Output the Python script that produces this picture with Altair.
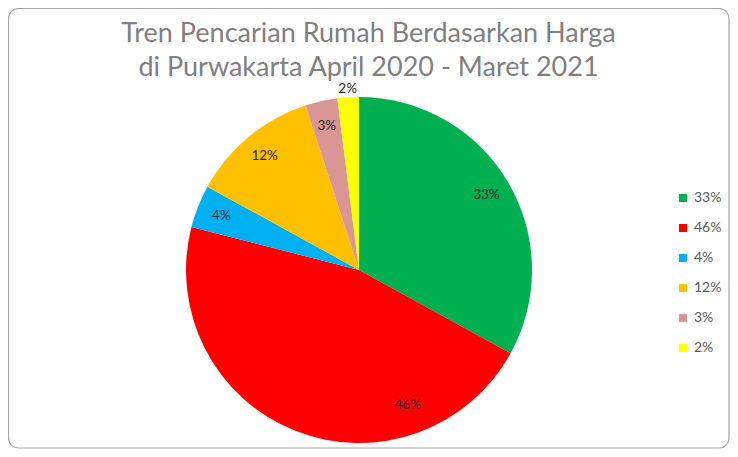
import altair as alt
import pandas as pd

labels = ["33%", "46%", "4%", "12%", "3%", "2%"]
values = [33, 46, 4, 12, 3, 2]
colors = ["#00B050", "#FF0000", "#00B0F0", "#FFC000", "#D99694", "#FFFF00"]
label_anchor = [0.5, 0.25, 0.5, 0.5, 0.5, 0.5]
order = list(range(len(labels)))
title_lines = ["Tren Pencarian Rumah Berdasarkan Harga", "di Purwakarta April 2020 - Maret 2021"]

df = pd.DataFrame({"label": labels, "value": values, "idx": order, "anchor": label_anchor})

CX, CY, R = 351, 172, 173

base = alt.Chart(df)

pie = base.mark_arc(outerRadius=R).encode(
    theta=alt.Theta("value:Q", stack=True),
    order=alt.Order("idx:Q"),
    color=alt.Color(
        "label:N",
        scale=alt.Scale(domain=labels, range=colors),
        sort=labels,
        legend=alt.Legend(
            title=None,
            orient="none",
            legendX=668,
            legendY=93,
            symbolType="square",
            symbolSize=64,
            symbolStrokeWidth=0,
            labelFontSize=14,
            labelFont="Lato",
            labelColor="#595959",
            rowPadding=16,
        ),
    ),
    x=alt.value(CX),
    y=alt.value(CY),
)

txt = (
    base.transform_window(cum="sum(value)", sort=[alt.SortField("idx")], frame=[None, 0])
    .transform_joinaggregate(total="sum(value)")
    .transform_calculate(
        th="2*PI*(datum.cum - datum.value + datum.anchor*datum.value)/datum.total",
        r="datum.value < 2.5 ? 181 : (datum.value > 40 ? 144 : 148)",
    )
    .mark_text(fontSize=13.5, font="Lato", color="#262626")
    .encode(
        theta=alt.Theta("th:Q", scale=None, stack=None),
        radius=alt.Radius("r:Q", scale=None),
        text="label:N",
        x=alt.value(CX),
        y=alt.value(CY),
    )
)

border = alt.Chart(pd.DataFrame({"a": [0]})).mark_rect(
    fill=None, stroke="#A6A6A6", strokeWidth=1.2, cornerRadius=10
).encode(
    x=alt.value(0.5), x2=alt.value(721), y=alt.value(-89.5), y2=alt.value(350)
)

title1 = alt.Chart(pd.DataFrame({"t": [title_lines[0]]})).mark_text(
    fontSize=27, font="Lato", color="#7F7F7F", baseline="alphabetic", align="center"
).encode(text="t:N", x=alt.value(360.5), y=alt.value(-56))

title2 = alt.Chart(pd.DataFrame({"t": [title_lines[1]]})).mark_text(
    fontSize=27, font="Lato", color="#7F7F7F", baseline="alphabetic", align="center"
).encode(text="t:N", x=alt.value(360.5), y=alt.value(-22))

chart = (
    alt.layer(border, title1, title2, pie, txt)
    .resolve_scale(theta="independent", radius="independent")
    .properties(
        width=722,
        height=351,
        autosize=alt.AutoSizeParams(type="none"),
        padding={"left": 0, "top": 90, "right": 0, "bottom": 0},
    )
    .configure_view(stroke=None)
)

chart.save("out.html", embed_options={"renderer": "svg", "actions": False})
